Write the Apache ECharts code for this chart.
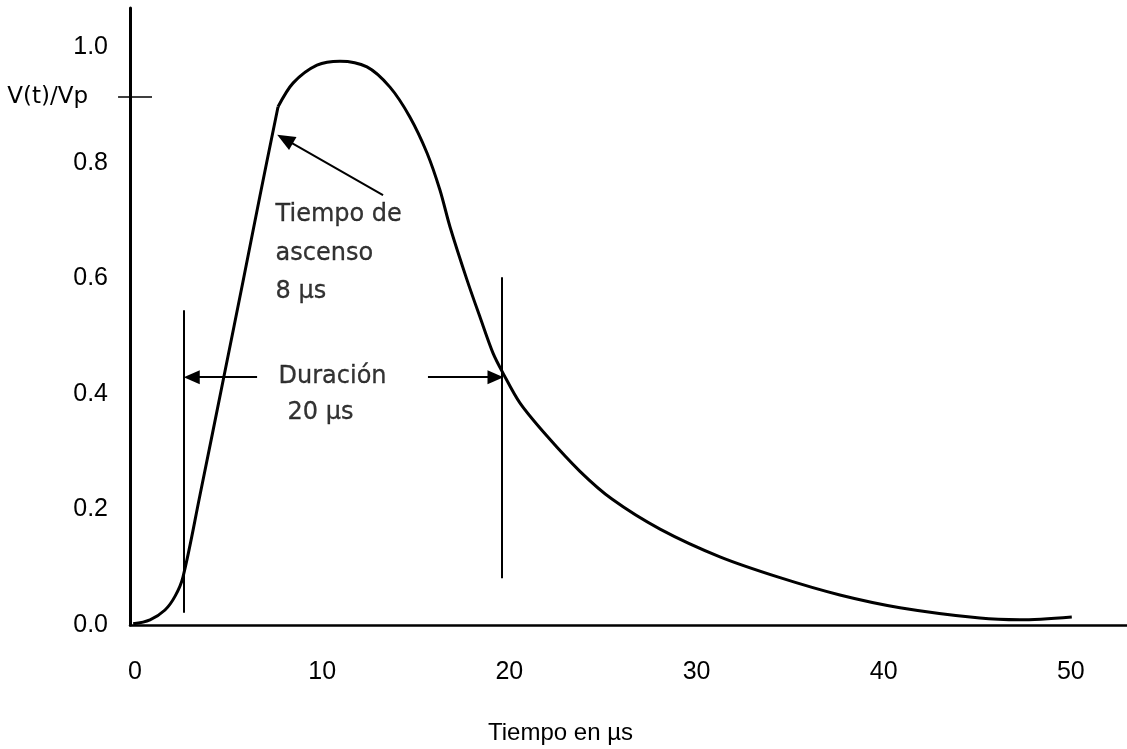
<!DOCTYPE html>
<html>
<head>
<meta charset="utf-8">
<script src="https://cdn.jsdelivr.net/npm/echarts@6/dist/echarts.min.js"></script>
<style>html,body{margin:0;padding:0;background:#fff}#c{width:1127px;height:749px}</style>
</head>
<body>
<div id="c"></div>
<script>
// Time (µs) and normalised voltage V(t)/Vp
var riseT = [-0.1, 0.8, 1.6, 2.14, 2.56, 3.47, 4.81, 5.77, 6.68, 7.64];
var riseV = [0.002, 0.009, 0.026, 0.050, 0.083, 0.225, 0.440, 0.595, 0.744, 0.897];
var tailT = [7.64, 8.44, 9.72, 10.95, 12.39, 13.62, 14.69, 15.6, 16.29, 16.83, 17.74, 18.43, 19.12, 19.66, 20.57, 22.01, 23.77, 25.48, 28.05, 31.25, 34.46, 37.66, 40.87, 45.14, 47.28, 50.05];
var tailV = [0.897, 0.938, 0.969, 0.976, 0.966, 0.931, 0.879, 0.817, 0.753, 0.689, 0.597, 0.533, 0.471, 0.436, 0.384, 0.327, 0.266, 0.218, 0.166, 0.118, 0.082, 0.052, 0.030, 0.012, 0.009, 0.014];

// Tick labels
var xTicks = [0, 10, 20, 30, 40, 50];
var yTicks = [0, 0.2, 0.4, 0.6, 0.8, 1.0];
var vpLevel = 0.914;

// Annotation lines (time, v1, v2)
var markerT = [2.62, 19.6];
var markerV1 = [0.021, 0.081];
var markerV2 = [0.545, 0.602];

// Arrows: [tailT, tailV, headT, headV]
var arrowRise = [13.25, 0.744, 8.01, 0.841];
var arrowLeft = [6.52, 0.429, 3.03, 0.429];
var arrowRight = [15.65, 0.429, 19.26, 0.429];

// Annotation texts
var noteText = ['Tiempo de', 'ascenso', '8 µs', 'Duración', '20 µs'];
var noteT = [7.48, 7.48, 7.48, 7.64, 8.12];
var noteV = [0.710, 0.642, 0.576, 0.429, 0.367];

function zip(a, b) { return a.map(function (v, i) { return [v, b[i]]; }); }

var chart = echarts.init(document.getElementById('c'), null, {renderer: 'canvas'});
var numFont = 'Liberation Sans';
var noteFont = 'DejaVu Sans';

var yBase = {type: 'value', min: 0, max: 1.068, position: 'left', splitLine: {show: false}};

var option = {
  animation: false,
  backgroundColor: '#fff',
  title: {
    text: 'Tiempo en µs', left: 488, top: 721, padding: 0,
    textStyle: {fontFamily: numFont, fontSize: 24, fontWeight: 'normal', color: '#000'}
  },
  grid: {left: 130, right: 0, top: 8, bottom: 124},
  xAxis: {
    type: 'value', min: -0.27, max: 53.0,
    axisLine: {show: true, onZero: false, lineStyle: {color: '#000', width: 2.5}},
    axisTick: {show: false},
    splitLine: {show: false},
    axisLabel: {customValues: xTicks, margin: 35, fontSize: 25, fontFamily: numFont, color: '#000'}
  },
  yAxis: [
    Object.assign({}, yBase, {
      axisLine: {show: true, onZero: false, lineStyle: {color: '#000', width: 3}},
      axisTick: {show: false},
      axisLabel: {customValues: yTicks, margin: 22, fontSize: 25, fontFamily: numFont, color: '#000',
        formatter: function (v) { return v.toFixed(1); }}
    }),
    Object.assign({}, yBase, {
      axisLine: {show: false},
      axisTick: {show: true, customValues: [vpLevel], length: 17, lineStyle: {color: '#000', width: 1.5}},
      axisLabel: {customValues: [vpLevel], margin: 42, fontSize: 23, fontFamily: noteFont, color: '#000',
        formatter: function () { return 'V(t)/Vp'; }}
    }),
    Object.assign({}, yBase, {
      axisLine: {show: false},
      axisTick: {show: true, inside: true, customValues: [vpLevel], length: 22, lineStyle: {color: '#000', width: 1.5}},
      axisLabel: {show: false}
    })
  ],
  series: [
    {
      type: 'line', data: zip(riseT, riseV), smooth: 0.35, symbol: 'none',
      lineStyle: {color: '#000', width: 3}, z: 3
    },
    {
      type: 'line', data: zip(tailT, tailV), smooth: 0.3, symbol: 'none',
      lineStyle: {color: '#000', width: 3}, z: 3,
      markLine: {
        silent: true, symbol: ['none', 'none'], label: {show: false},
        lineStyle: {color: '#000', width: 2, type: 'solid'},
        data: markerT.map(function (t, i) {
          return [{coord: [t, markerV1[i]]}, {coord: [t, markerV2[i]]}];
        })
      }
    },
    {
      type: 'line', data: [], symbol: 'none',
      markLine: {
        silent: true, symbol: ['none', 'triangle'], symbolSize: [14, 16], label: {show: false},
        lineStyle: {color: '#000', width: 2, type: 'solid'},
        data: [arrowLeft, arrowRight].map(function (a) {
          return [{coord: [a[0], a[1]]}, {coord: [a[2], a[3]]}];
        })
      }
    },
    {
      type: 'line', data: [], symbol: 'none',
      markLine: {
        silent: true, symbol: ['none', 'triangle'], symbolSize: [15, 18], label: {show: false},
        lineStyle: {color: '#000', width: 2, type: 'solid'},
        data: [[{coord: [arrowRise[0], arrowRise[1]]}, {coord: [arrowRise[2], arrowRise[3]]}]]
      }
    },
    {
      type: 'scatter', symbolSize: 1, itemStyle: {color: 'rgba(0,0,0,0)'}, silent: true,
      data: noteText.map(function (s, i) { return {value: [noteT[i], noteV[i]], name: s}; }),
      label: {
        show: true, position: 'right', distance: 0, color: '#000',
        textBorderColor: '#000', textBorderWidth: 0.3,
        fontSize: 24, fontFamily: noteFont,
        formatter: function (p) { return p.name; }
      }
    }
  ]
};
chart.setOption(option);
</script>
</body>
</html>
